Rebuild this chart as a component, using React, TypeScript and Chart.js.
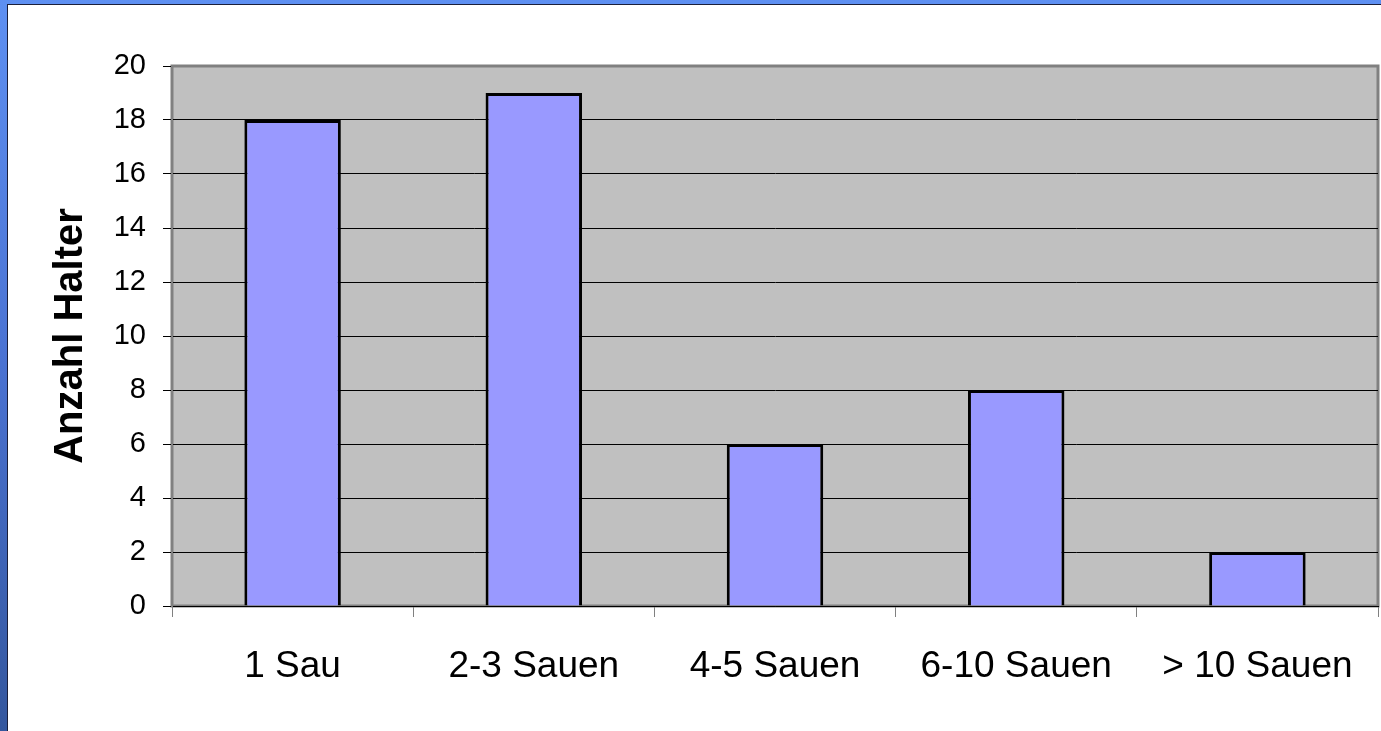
import React, { useEffect, useRef } from "react";
import { Chart, registerables } from "chart.js";

Chart.register(...registerables);

const categories = ["1 Sau", "2-3 Sauen", "4-5 Sauen", "6-10 Sauen", "> 10 Sauen"];
const values = [18, 19, 6, 8, 2];
const yTitle = "Anzahl Halter";
const yMin = 0;
const yMax = 20;
const yStep = 2;

const FONT = "Arial, 'Liberation Sans', sans-serif";

const plotBg = {
  id: "plotBg",
  beforeDraw(chart: any) {
    const { ctx, chartArea } = chart;
    if (!chartArea) return;
    const { left, top, right, bottom } = chartArea;
    ctx.save();
    ctx.fillStyle = "#C0C0C0";
    ctx.fillRect(left, top, right - left, bottom - top);
    ctx.strokeStyle = "#808080";
    ctx.lineWidth = 3;
    ctx.strokeRect(left, top, right - left, bottom - top);
    ctx.restore();
  },
};

export default function App() {
  const ref = useRef<HTMLCanvasElement>(null);

  useEffect(() => {
    document.body.style.margin = "0";
    const canvas = ref.current;
    if (!canvas) return;
    const chart = new Chart(canvas, {
      type: "bar",
      data: {
        labels: categories,
        datasets: [
          {
            data: values,
            backgroundColor: "#9999FF",
            borderColor: "#000000",
            borderWidth: 3,
            barPercentage: 0.4,
            categoryPercentage: 1,
          },
        ],
      },
      options: {
        animation: false,
        responsive: false,
        maintainAspectRatio: false,
        layout: { padding: { top: 66, right: 3, bottom: 0, left: 0 } },
        plugins: {
          legend: { display: false },
          tooltip: { enabled: false },
        },
        scales: {
          x: {
            offset: true,
            grid: {
              offset: true,
              drawOnChartArea: false,
              drawTicks: true,
              tickLength: 11,
              tickColor: "#808080",
            },
            border: { display: true, color: "#000000", width: 1 },
            ticks: {
              color: "#000000",
              font: { family: FONT, size: 37 },
              padding: 28,
              maxRotation: 0,
              autoSkip: false,
            },
            afterFit(scale: any) {
              scale.height = 125;
            },
          },
          y: {
            min: yMin,
            max: yMax,
            grid: {
              color: (ctx: any) => (ctx.tick && ctx.tick.value === yMax ? "#808080" : "#000000"),
              tickColor: "#000000",
              lineWidth: 1,
              tickLength: 9,
            },
            border: { display: true, color: "#808080", width: 2 },
            ticks: {
              stepSize: yStep,
              color: "#000000",
              font: { family: FONT, size: 29 },
              padding: 17,
            },
            title: {
              display: true,
              text: yTitle,
              color: "#000000",
              font: { family: FONT, size: 40, weight: "bold" },
              padding: { top: 47, bottom: 0 },
            },
            afterFit(scale: any) {
              scale.width = 172;
            },
          },
        },
      },
      plugins: [plotBg],
    });
    return () => chart.destroy();
  }, []);

  return (
    <div
      style={{
        position: "fixed",
        left: 0,
        top: 0,
        width: 1381,
        height: 731,
        background: "linear-gradient(180deg, #5E90F2 0%, #4A72D2 50%, #34579E 100%)",
        overflow: "hidden",
      }}
    >
      <div
        style={{
          position: "absolute",
          left: 7,
          top: 4,
          right: 0,
          bottom: 0,
          background: "#FFFFFF",
          borderLeft: "1px solid #1B1F3A",
          borderTop: "1px solid #1B1F3A",
        }}
      />
      <canvas
        ref={ref}
        width={1381}
        height={731}
        style={{ position: "absolute", left: 0, top: 0, width: 1381, height: 731 }}
      />
    </div>
  );
}
